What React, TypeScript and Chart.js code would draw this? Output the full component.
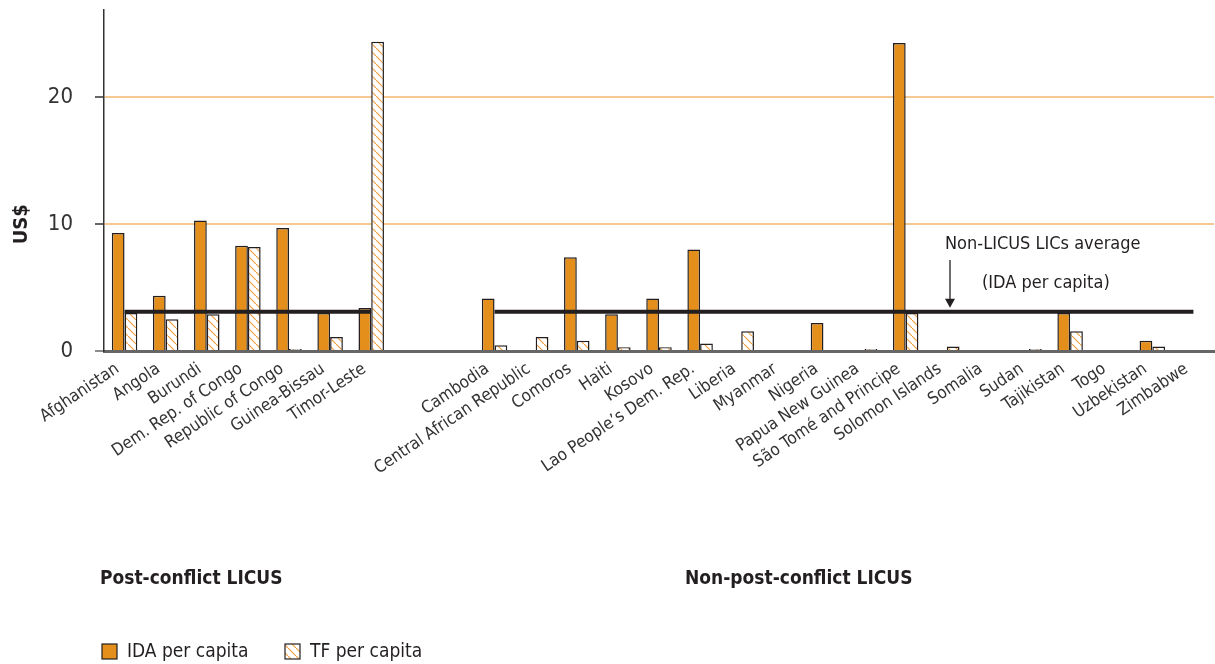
import React, { useEffect, useRef } from 'react';
import { Chart, registerables } from 'chart.js';

Chart.register(...registerables);

const categories = [
  'Afghanistan', 'Angola', 'Burundi', 'Dem. Rep. of Congo', 'Republic of Congo', 'Guinea-Bissau', 'Timor-Leste',
  '', '',
  'Cambodia', 'Central African Republic', 'Comoros', 'Haiti', 'Kosovo', 'Lao People\u2019s Dem. Rep.', 'Liberia',
  'Myanmar', 'Nigeria', 'Papua New Guinea', 'S\u00e3o Tom\u00e9 and Principe', 'Solomon Islands', 'Somalia', 'Sudan',
  'Tajikistan', 'Togo', 'Uzbekistan', 'Zimbabwe',
];

const idaPerCapita = [
  9.3, 4.35, 10.3, 8.3, 9.7, 3.0, 3.4,
  null, null,
  4.15, null, 7.4, 2.9, 4.15, 8.0, null,
  null, 2.2, null, 24.3, null, null, null,
  3.0, null, 0.8, null,
];

const tfPerCapita = [
  3.0, 2.5, 2.9, 8.2, 0.15, 1.1, 24.4,
  null, null,
  0.45, 1.1, 0.8, 0.3, 0.3, 0.6, 1.55,
  null, null, 0.15, 3.0, 0.35, null, 0.15,
  1.55, null, 0.35, null,
];

const nonLicusAverage = [
  3.1, 3.1, 3.1, 3.1, 3.1, 3.1, 3.1,
  null, null,
  3.1, 3.1, 3.1, 3.1, 3.1, 3.1, 3.1,
  3.1, 3.1, 3.1, 3.1, 3.1, 3.1, 3.1,
  3.1, 3.1, 3.1, 3.1,
];

const yTicks = [0, 10, 20];
const groupLabels = ['Post-conflict LICUS', 'Non-post-conflict LICUS'];
const seriesNames = ['IDA per capita', 'TF per capita'];
const annotationLines = ['Non-LICUS LICs average', '(IDA per capita)'];
const yTitle = 'US$';

const FONT = "'Liberation Sans Narrow', 'DejaVu Sans Condensed', 'Roboto', sans-serif";
const ORANGE = '#e48f1b';
const DARK = '#231f20';
const TEXT = '#333333';

function makeHatch(): CanvasPattern | string {
  const c = document.createElement('canvas');
  c.width = 8;
  c.height = 8;
  const g = c.getContext('2d');
  if (!g) return '#ffffff';
  g.fillStyle = '#ffffff';
  g.fillRect(0, 0, 8, 8);
  g.strokeStyle = '#f0a040';
  g.lineWidth = 1.2;
  g.beginPath();
  g.moveTo(-1, -1);
  g.lineTo(9, 9);
  g.stroke();
  const p = g.createPattern(c, 'repeat');
  return p || '#ffffff';
}

export default function App() {
  const canvasRef = useRef<HTMLCanvasElement | null>(null);

  useEffect(() => {
    document.body.style.margin = '0';
    document.body.style.overflow = 'hidden';
    const canvas = canvasRef.current;
    if (!canvas) return;
    const hatch = makeHatch();

    const overlay = {
      id: 'overlay',
      afterDraw(chart: any) {
        const ctx = chart.ctx as CanvasRenderingContext2D;
        const area = chart.chartArea;
        const y = chart.scales.y;
        ctx.save();
        ctx.fillStyle = DARK;
        ctx.font = `bold 20px ${FONT}`;
        ctx.textAlign = 'center';
        ctx.textBaseline = 'middle';
        ctx.translate(22, y.getPixelForValue(10));
        ctx.rotate(-Math.PI / 2);
        ctx.fillText(yTitle, 0, 0);
        ctx.restore();

        ctx.save();
        const avgY = y.getPixelForValue(3.1);
        ctx.fillStyle = DARK;
        ctx.font = `18px ${FONT}`;
        ctx.textAlign = 'left';
        ctx.textBaseline = 'middle';
        ctx.fillText(annotationLines[0], 945, 244);
        ctx.fillText(annotationLines[1], 982, 283);
        ctx.strokeStyle = DARK;
        ctx.lineWidth = 1.3;
        ctx.beginPath();
        ctx.moveTo(950, 260);
        ctx.lineTo(950, avgY - 10);
        ctx.stroke();
        ctx.beginPath();
        ctx.moveTo(945, avgY - 13);
        ctx.lineTo(955, avgY - 13);
        ctx.lineTo(950, avgY - 4);
        ctx.closePath();
        ctx.fill();

        ctx.font = `bold 19px ${FONT}`;
        ctx.textBaseline = 'middle';
        ctx.fillText(groupLabels[0], area.left - 4, 579);
        ctx.fillText(groupLabels[1], 685, 579);

        ctx.font = `19px ${FONT}`;
        ctx.fillStyle = ORANGE;
        ctx.fillRect(102, 644, 15, 15);
        ctx.strokeStyle = DARK;
        ctx.lineWidth = 1.2;
        ctx.strokeRect(102, 644, 15, 15);
        ctx.fillStyle = DARK;
        ctx.fillText(seriesNames[0], 127, 652);
        ctx.fillStyle = hatch as any;
        ctx.fillRect(285, 644, 15, 15);
        ctx.strokeRect(285, 644, 15, 15);
        ctx.fillStyle = DARK;
        ctx.fillText(seriesNames[1], 310, 652);
        ctx.restore();
      },
    };

    const chart = new Chart(canvas, {
      type: 'bar',
      data: {
        labels: categories,
        datasets: [
          {
            type: 'line',
            label: 'Non-LICUS LICs average',
            data: nonLicusAverage as any,
            borderColor: DARK,
            borderWidth: 4,
            pointRadius: 0,
            spanGaps: false,
            order: 0,
          } as any,
          {
            label: seriesNames[0],
            data: idaPerCapita as any,
            backgroundColor: ORANGE,
            borderColor: DARK,
            borderWidth: 1.5,
            categoryPercentage: 0.62,
            barPercentage: 1.0,
            order: 1,
          },
          {
            label: seriesNames[1],
            data: tfPerCapita as any,
            backgroundColor: hatch as any,
            borderColor: DARK,
            borderWidth: 1.5,
            categoryPercentage: 0.62,
            barPercentage: 1.0,
            order: 1,
          },
        ],
      },
      options: {
        responsive: true,
        maintainAspectRatio: false,
        animation: false,
        layout: { padding: { top: 10, right: 1, left: 0, bottom: 0 } },
        plugins: {
          legend: { display: false },
          tooltip: { enabled: false },
        },
        scales: {
          x: {
            grid: { display: false },
            border: { display: true, color: '#666666', width: 3 },
            ticks: {
              autoSkip: false,
              minRotation: 34,
              maxRotation: 34,
              padding: 0,
              labelOffset: -7,
              color: TEXT,
              font: { family: FONT, size: 17 },
            },
            afterFit: (scale: any) => {
              scale.height = 313;
              scale.paddingTop = 0;
            },
          },
          y: {
            min: 0,
            max: 26.9,
            ticks: {
              stepSize: 10,
              padding: 22,
              color: TEXT,
              font: { family: FONT, size: 22 },
            },
            afterBuildTicks: (axis: any) => {
              axis.ticks = yTicks.map((v) => ({ value: v }));
            },
            grid: {
              color: (ctx: any) => (ctx.tick && ctx.tick.value === 0 ? 'rgba(0,0,0,0)' : '#f6c993'),
              lineWidth: 2,
              tickColor: (ctx: any) => (ctx.tick && ctx.tick.value === 0 ? '#666666' : '#333333'),
              tickLength: 9,
              tickWidth: 1.5,
            },
            border: { display: true, color: '#333333', width: 1.5 },
            afterFit: (scale: any) => {
              scale.width = 104;
              scale.paddingTop = 0;
              scale.paddingBottom = 0;
            },
          },
        },
      },
      plugins: [overlay],
    });

    return () => chart.destroy();
  }, []);

  return (
    <div style={{ width: 1215, height: 664, position: 'relative' }}>
      <canvas ref={canvasRef} />
    </div>
  );
}
